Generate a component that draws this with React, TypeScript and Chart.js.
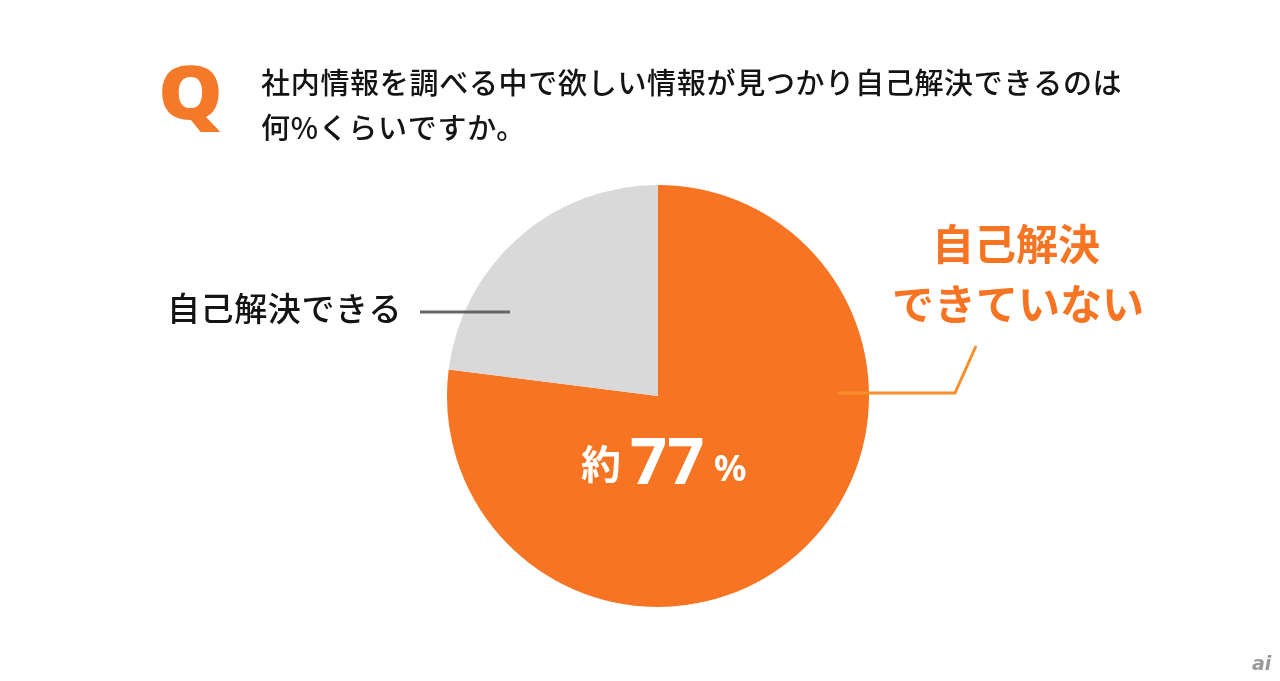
import React, { useEffect, useRef } from "react";
import { Chart, registerables } from "chart.js";

Chart.register(...registerables);

const categories = ["自己解決できない", "自己解決できる"];
const values = [77, 23];
const colors = ["#F77423", "#D9D9D9"];
const titleLines = ["社内情報を調べる中で欲しい情報が見つかり自己解決できるのは", "何%くらいですか。"];
const leftLabel = "自己解決できる";
const rightLabelLines = ["自己解決", "できていない"];
const centerPrefix = "約";
const centerValue = "77";
const centerSuffix = "%";

const JP = '"Noto Sans CJK JP", "Noto Sans", sans-serif';

const textPlugin = {
  id: "annotations",
  afterDraw(chart: any) {
    const ctx = chart.ctx as CanvasRenderingContext2D;
    ctx.save();
    // Q icon
    ctx.save();
    ctx.fillStyle = "#F47A2A";
    ctx.font = `900 74px "Noto Sans", sans-serif`;
    ctx.textBaseline = "alphabetic";
    ctx.textAlign = "left";
    ctx.translate(158, 119);
    ctx.scale(1.1, 1.0);
    ctx.fillText("Q", 0, 0);
    ctx.restore();

    // Title
    ctx.fillStyle = "#141414";
    ctx.font = `500 29px ${JP}`;
    ctx.textBaseline = "middle";
    (ctx as any).letterSpacing = "0.7px";
    ctx.fillText(titleLines[0], 261, 83);
    ctx.fillText(titleLines[1], 261, 128);

    // Left label
    ctx.font = `500 33px ${JP}`;
    (ctx as any).letterSpacing = "0.6px";
    ctx.fillStyle = "#141414";
    ctx.fillText(leftLabel, 167, 308);
    (ctx as any).letterSpacing = "0px";
    ctx.strokeStyle = "#666666";
    ctx.lineWidth = 3;
    ctx.beginPath();
    ctx.moveTo(420, 312);
    ctx.lineTo(510, 312);
    ctx.stroke();

    // Right label
    ctx.fillStyle = "#F77423";
    ctx.font = `bold 42px ${JP}`;
    ctx.textAlign = "center";
    ctx.fillText(rightLabelLines[0], 1016, 244);
    ctx.fillText(rightLabelLines[1], 1018, 304);
    ctx.strokeStyle = "#F7902A";
    ctx.lineWidth = 3;
    ctx.beginPath();
    ctx.moveTo(838, 393);
    ctx.lineTo(955, 393);
    ctx.lineTo(976, 346);
    ctx.stroke();

    // Center value
    ctx.fillStyle = "#FFFFFF";
    ctx.textAlign = "left";
    ctx.textBaseline = "alphabetic";
    ctx.font = `bold 40px ${JP}`;
    ctx.fillText(centerPrefix, 581, 479);
    ctx.font = `bold 65px "Noto Sans", sans-serif`;
    ctx.fillText(centerValue, 630, 484);
    ctx.font = `bold 36px "Noto Sans", sans-serif`;
    ctx.fillText(centerSuffix, 714, 481);

    // logo
    ctx.fillStyle = "#9a9a9a";
    ctx.font = `italic bold 19px "DejaVu Sans", sans-serif`;
    ctx.fillText("ai", 1252, 670);
    ctx.restore();
  },
};

export default function App() {
  const ref = useRef<HTMLCanvasElement | null>(null);
  useEffect(() => {
    document.body.style.margin = "0";
    const chart = new Chart(ref.current as HTMLCanvasElement, {
      type: "pie",
      data: {
        labels: categories,
        datasets: [
          {
            data: values,
            backgroundColor: colors,
            borderWidth: 0,
          },
        ],
      },
      options: {
        responsive: false,
        animation: false,
        layout: { padding: { top: 185, bottom: 74, left: 447, right: 411 } },
        plugins: {
          legend: { display: false },
          tooltip: { enabled: false },
          title: { display: false },
        },
      },
      plugins: [textPlugin],
    });
    return () => chart.destroy();
  }, []);
  return (
    <div style={{ position: "fixed", left: 0, top: 0, width: 1280, height: 681, background: "#fff" }}>
      <canvas ref={ref} width={1280} height={681} style={{ display: "block" }} />
    </div>
  );
}
